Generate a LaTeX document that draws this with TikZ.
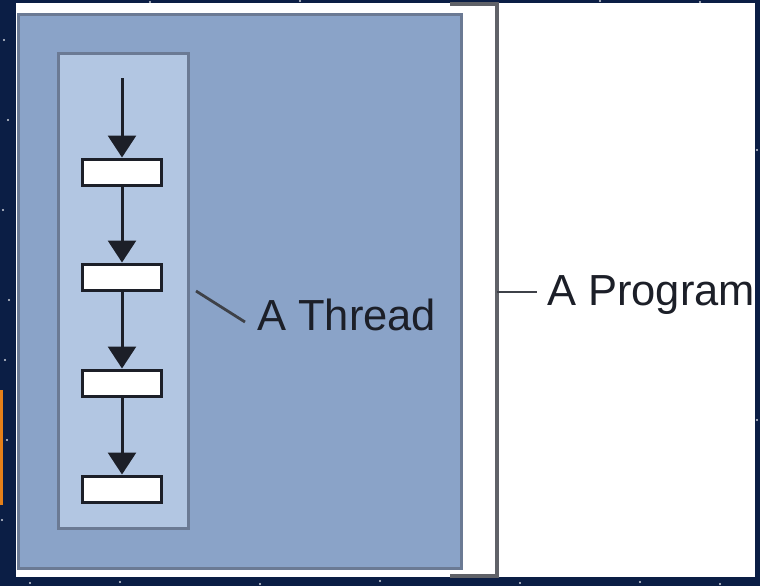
\documentclass[tikz,border=0pt]{standalone}
\usepackage{fontspec}
\setmainfont{Liberation Sans}
\usetikzlibrary{arrows.meta}
\definecolor{space}{HTML}{0B1E45}
\definecolor{progfill}{HTML}{8AA3C8}
\definecolor{threadfill}{HTML}{B2C6E2}
\definecolor{edge}{HTML}{6B7A94}
\definecolor{ink}{HTML}{1C1F28}
\tikzset{
  stepbox/.style={draw=ink, fill=white, line width=3pt, minimum width=79pt, minimum height=26pt, inner sep=0pt},
  flow/.style={draw=ink, line width=3pt, -{Triangle[width=28pt,length=22pt]}},
  label/.style={font=\fontsize{43.5}{50}\selectfont, text=ink, inner sep=0pt, anchor=base west},
  leader/.style={draw=ink!85, line width=2.8pt},
}
\begin{document}
\begin{tikzpicture}[x=1pt,y=-1pt]
\useasboundingbox (0,0) rectangle (760,586);
% background
\fill[space] (0,0) rectangle (760,586);
\foreach \sx/\sy in {4/40,8/120,3/210,9/300,5/360,7/440,2/520,30/583,120/582,260/584,380/581,520/583,640/582,720/584,757/150,757/420,600/1,300/1,150/2,700/2}
  \fill[white!80!space] (\sx,\sy) circle (1.2pt);
\fill[orange!60!brown] (0,390) rectangle (3,505);
% white panel
\fill[white] (16,3) rectangle (755,577);
% program box
\node[draw=edge, fill=progfill, line width=3pt, minimum width=443pt, minimum height=554pt, inner sep=0pt, anchor=north west] (prog) at (17,13) {};
% thread box
\node[draw=edge, fill=threadfill, line width=3pt, minimum width=130pt, minimum height=475pt, inner sep=0pt, anchor=north west] (thread) at (57,52) {};
% steps
\node[stepbox] (b1) at (122,172) {};
\node[stepbox] (b2) at (122,277) {};
\node[stepbox] (b3) at (122,383) {};
\node[stepbox] (b4) at (122,489) {};
\coordinate (start) at (122,78);
\draw[flow] (start) -- (b1.north);
\draw[flow] (b1.south) -- (b2.north);
\draw[flow] (b2.south) -- (b3.north);
\draw[flow] (b3.south) -- (b4.north);
% thread label
\node[label] (tlabel) at (257,330) {A Thread};
\coordinate (tl1) at (196,291);
\coordinate (tl2) at (245,322);
\draw[leader] (tl1) -- (tl2);
% program bracket
\coordinate (brt) at (450,4);
\coordinate (brtr) at (497,4);
\coordinate (brbr) at (497,576);
\coordinate (brb) at (450,576);
\draw[draw=ink!70, line width=3.5pt] (brt) -- (brtr) -- (brbr) -- (brb);
\coordinate (pl1) at (497,292);
\coordinate (pl2) at (537,292);
\draw[leader] (pl1) -- (pl2);
\node[label] (plabel) at (547,305) {A Program};
\end{tikzpicture}
\end{document}
